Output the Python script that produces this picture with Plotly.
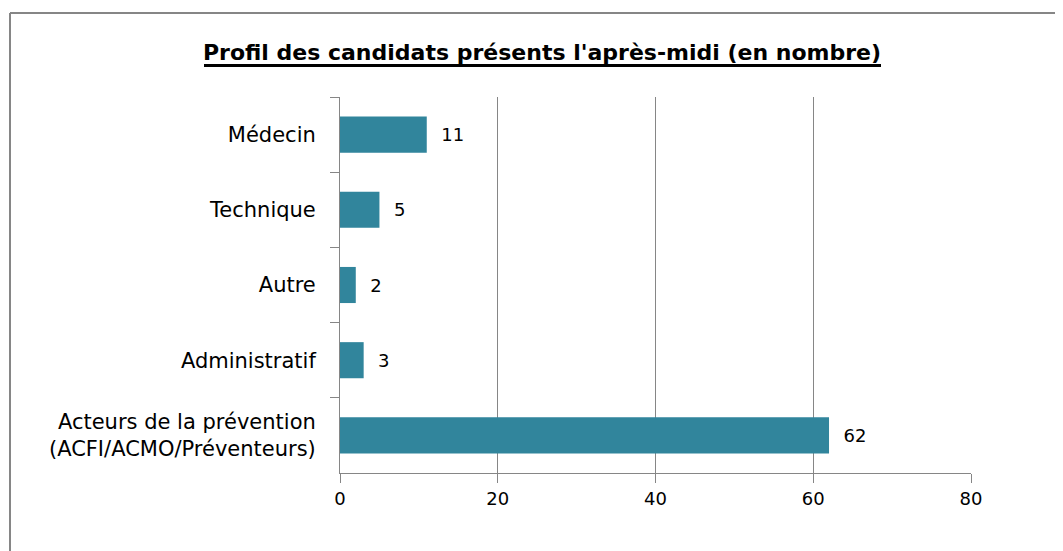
import plotly.graph_objects as go

categories = ["Médecin", "Technique", "Autre", "Administratif",
              "Acteurs de la prévention<br>(ACFI/ACMO/Préventeurs)"]
values = [11, 5, 2, 3, 62]
x_ticks = [0, 20, 40, 60, 80]

BAR = "#31859C"
GRID = "#868686"
FONT = "DejaVu Sans, sans-serif"

fig = go.Figure(go.Bar(
    x=values, y=categories, orientation="h",
    marker=dict(color=BAR, line=dict(width=0)),
    text=values, texttemplate="  %{x}", textposition="outside",
    textfont=dict(size=18, color="#000000", family=FONT),
    cliponaxis=False, width=0.48,
))

# page is offset by the default 8px body margin
OFF = 8
W, H = 1063, 551
L, R, T, B = 340 - OFF, 971 - OFF, 97 - OFF, 473 - OFF

def px(x):
    return (x - OFF - L) / (R - L)

def py(y):
    return (B - (y - OFF)) / (B - T)

fig.update_layout(
    width=W, height=H,
    margin=dict(l=L, r=W - R, t=T, b=H - B),
    paper_bgcolor="white", plot_bgcolor="white",
    font=dict(family=FONT, size=21, color="#000000"),
    showlegend=False,
    title=dict(text="<b>Profil des candidats présents l'après-midi (en nombre)</b>",
               x=(542 - OFF) / W, xref="container", xanchor="center",
               y=1 - (52 - OFF) / H, yref="container", yanchor="middle",
               font=dict(size=22, family=FONT, color="#000000")),
    xaxis=dict(range=[0, 80], tickvals=x_ticks, showgrid=True, gridcolor=GRID, gridwidth=1,
               showline=True, linecolor=GRID, linewidth=1, ticks="outside", ticklen=9,
               tickcolor=GRID, zeroline=False, tickfont=dict(size=18), fixedrange=True),
    yaxis=dict(autorange="reversed", showgrid=False, showline=True, linecolor=GRID,
               linewidth=1, ticks="outside", ticklen=9, tickcolor=GRID,
               tickson="boundaries", ticklabelstandoff=19, tickfont=dict(size=21)),
    shapes=[
        dict(type="line", xref="paper", yref="paper", x0=px(10), x1=px(1090),
             y0=py(13), y1=py(13), line=dict(color=GRID, width=2)),
        dict(type="line", xref="paper", yref="paper", x0=px(10), x1=px(10),
             y0=py(13), y1=py(580), line=dict(color=GRID, width=2)),
        # title underline
        dict(type="line", xref="paper", yref="paper", x0=px(204), x1=px(881),
             y0=py(65.5), y1=py(65.5), line=dict(color="#000000", width=3)),
    ],
)

fig.write_html("out.html")
